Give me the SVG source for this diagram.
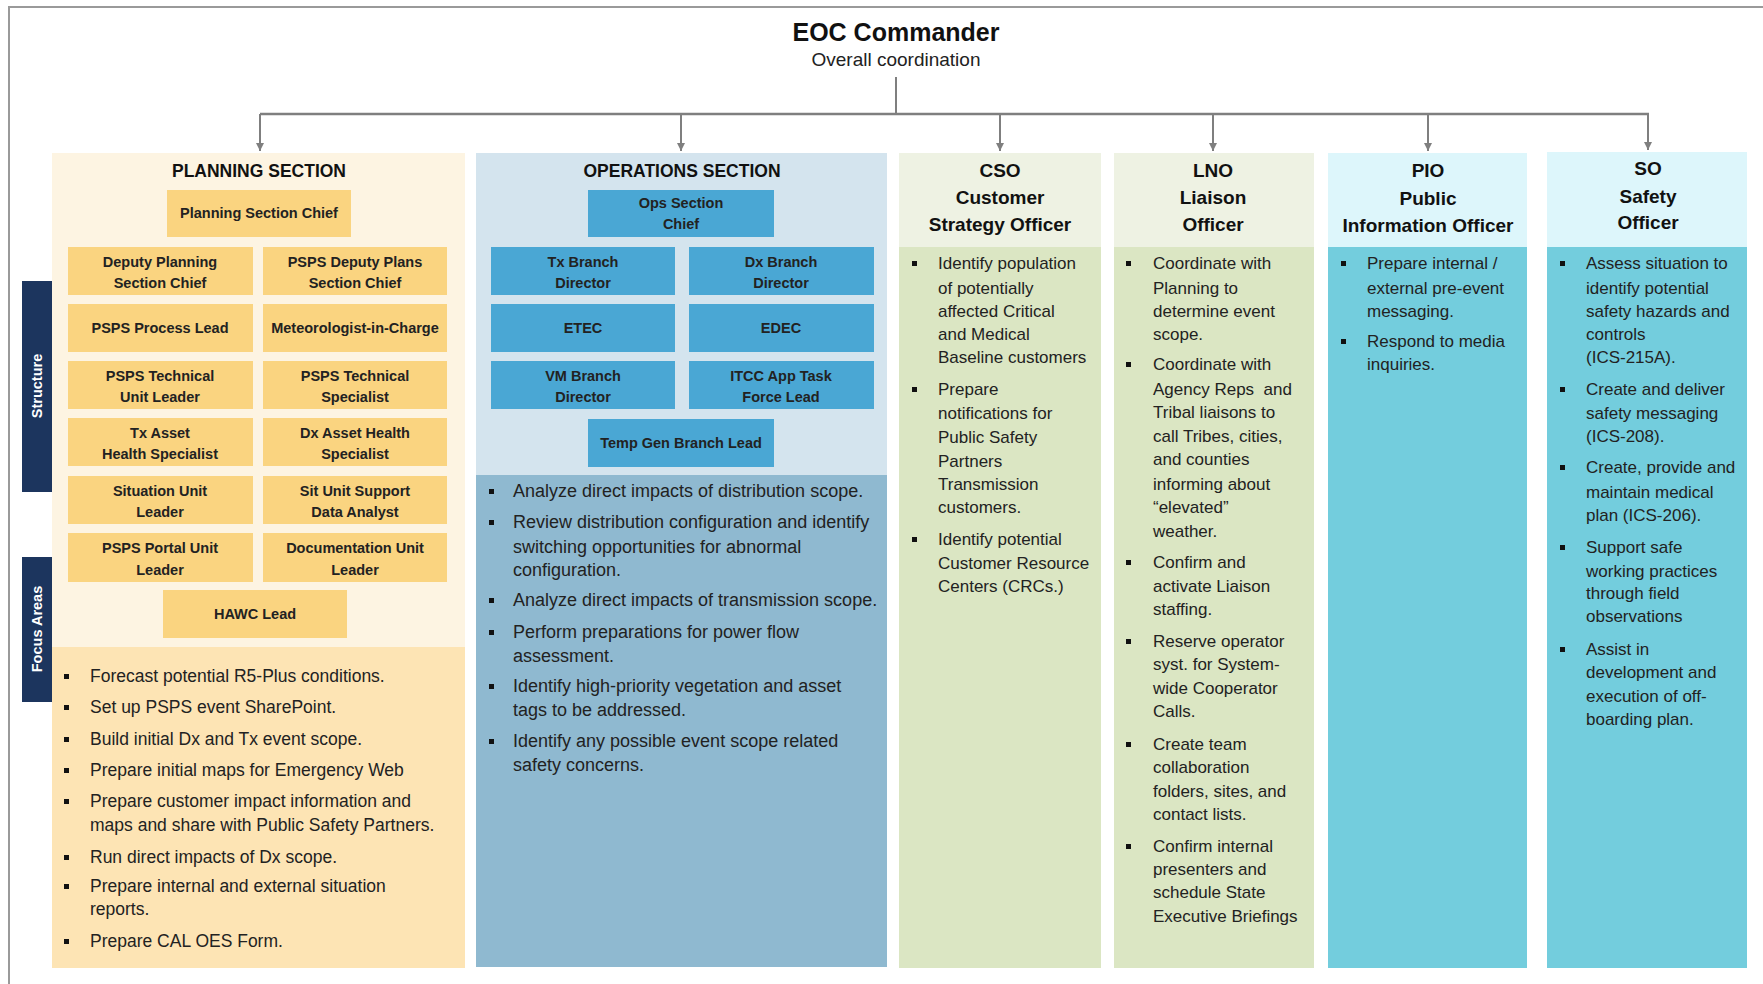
<svg xmlns="http://www.w3.org/2000/svg" width="1763" height="984" viewBox="0 0 1763 984">
<style>
text{font-family:"Liberation Sans",Arial,sans-serif;fill:#1a1a1a}
.h{font-weight:bold;font-size:19px;text-anchor:middle;fill:#111}
.sec{font-weight:bold;font-size:17.5px;text-anchor:middle;fill:#111}
.bx{font-weight:bold;font-size:14.5px;text-anchor:middle;fill:#222}
.t{font-size:17.5px;fill:#222}
.t2{font-size:18px;fill:#222}
.t3{font-size:17px;fill:#222}
.tab{font-weight:bold;font-size:14.5px;text-anchor:middle;fill:#fff}
.pb{fill:#fad480}
.ob{fill:#4aa7d4}
.conn{stroke:#7f7f7f;stroke-width:2;fill:none}
.bul{fill:#111}
</style>
<defs>
<marker id="arr" viewBox="0 0 10 10" refX="10" refY="5" markerWidth="8" markerHeight="8" markerUnits="userSpaceOnUse" orient="auto">
<path d="M0,0 L10,5 L0,10 z" fill="#7f7f7f"/>
</marker>
<rect id="b" width="5" height="5"/>
</defs>
<rect width="1763" height="984" fill="#fff"/>
<path d="M9 984 V7 H1763" stroke="#9a9a9a" stroke-width="2" fill="none"/>

<g id="commander">
<text x="896" y="41" style="font-weight:bold;font-size:25px;text-anchor:middle;fill:#111">EOC Commander</text>
<text x="896" y="66" style="font-size:19px;text-anchor:middle;fill:#222">Overall coordination</text>
</g>

<g id="connectors">
<path class="conn" d="M896 77 V114"/>
<path class="conn" d="M260 114 H1649" style="stroke-width:2.5"/>
<path class="conn" d="M260 114 V151" marker-end="url(#arr)"/>
<path class="conn" d="M681 114 V151" marker-end="url(#arr)"/>
<path class="conn" d="M1000 114 V151" marker-end="url(#arr)"/>
<path class="conn" d="M1213 114 V151" marker-end="url(#arr)"/>
<path class="conn" d="M1428 114 V151" marker-end="url(#arr)"/>
<path class="conn" d="M1648 114 V150" marker-end="url(#arr)"/>
</g>

<g id="tabs">
<rect x="22" y="281" width="31" height="211" fill="#1c355e"/>
<text class="tab" transform="translate(42 386) rotate(-90)">Structure</text>
<rect x="22" y="557" width="31" height="145" fill="#1c355e"/>
<text class="tab" transform="translate(42 629) rotate(-90)">Focus Areas</text>
</g>

<g id="planning">
<rect x="52" y="153" width="413" height="494" fill="#fdf4e2"/>
<rect x="52" y="647" width="413" height="321" fill="#fde4b4"/>
<text class="sec" x="259" y="177">PLANNING SECTION</text>
<rect class="pb" x="167" y="190" width="184" height="47"/>
<text class="bx" x="259" y="218">Planning Section Chief</text>
<rect class="pb" x="68" y="247" width="185" height="48"/>
<text class="bx" x="160" y="267">Deputy Planning</text><text class="bx" x="160" y="288">Section Chief</text>
<rect class="pb" x="263" y="247" width="184" height="48"/>
<text class="bx" x="355" y="267">PSPS Deputy Plans</text><text class="bx" x="355" y="288">Section Chief</text>
<rect class="pb" x="68" y="304" width="185" height="48"/>
<text class="bx" x="160" y="333">PSPS Process Lead</text>
<rect class="pb" x="263" y="304" width="184" height="48"/>
<text class="bx" x="355" y="333">Meteorologist-in-Charge</text>
<rect class="pb" x="68" y="361" width="185" height="48"/>
<text class="bx" x="160" y="381">PSPS Technical</text><text class="bx" x="160" y="402">Unit Leader</text>
<rect class="pb" x="263" y="361" width="184" height="48"/>
<text class="bx" x="355" y="381">PSPS Technical</text><text class="bx" x="355" y="402">Specialist</text>
<rect class="pb" x="68" y="418" width="185" height="48"/>
<text class="bx" x="160" y="438">Tx Asset</text><text class="bx" x="160" y="459">Health Specialist</text>
<rect class="pb" x="263" y="418" width="184" height="48"/>
<text class="bx" x="355" y="438">Dx Asset Health</text><text class="bx" x="355" y="459">Specialist</text>
<rect class="pb" x="68" y="476" width="185" height="48"/>
<text class="bx" x="160" y="496">Situation Unit</text><text class="bx" x="160" y="517">Leader</text>
<rect class="pb" x="263" y="476" width="184" height="48"/>
<text class="bx" x="355" y="496">Sit Unit Support</text><text class="bx" x="355" y="517">Data Analyst</text>
<rect class="pb" x="68" y="533" width="185" height="49"/>
<text class="bx" x="160" y="553">PSPS Portal Unit</text><text class="bx" x="160" y="575">Leader</text>
<rect class="pb" x="263" y="533" width="184" height="49"/>
<text class="bx" x="355" y="553">Documentation Unit</text><text class="bx" x="355" y="575">Leader</text>
<rect class="pb" x="163" y="590" width="184" height="48"/>
<text class="bx" x="255" y="619">HAWC Lead</text>
<g class="bul">
<use href="#b" x="64" y="674"/><use href="#b" x="64" y="705"/><use href="#b" x="64" y="737"/><use href="#b" x="64" y="768"/><use href="#b" x="64" y="799"/><use href="#b" x="64" y="855"/><use href="#b" x="64" y="884"/><use href="#b" x="64" y="939"/>
</g>
<text class="t" x="90" y="682">Forecast potential R5-Plus conditions.</text>
<text class="t" x="90" y="713">Set up PSPS event SharePoint.</text>
<text class="t" x="90" y="745">Build initial Dx and Tx event scope.</text>
<text class="t" x="90" y="776">Prepare initial maps for Emergency Web</text>
<text class="t" x="90" y="807">Prepare customer impact information and</text>
<text class="t" x="90" y="831">maps and share with Public Safety Partners.</text>
<text class="t" x="90" y="863">Run direct impacts of Dx scope.</text>
<text class="t" x="90" y="892">Prepare internal and external situation</text>
<text class="t" x="90" y="915">reports.</text>
<text class="t" x="90" y="947">Prepare CAL OES Form.</text>
</g>

<g id="operations">
<rect x="476" y="153" width="411" height="322" fill="#d4e4ee"/>
<rect x="476" y="475" width="411" height="492" fill="#8fb9d0"/>
<text class="sec" x="682" y="177">OPERATIONS SECTION</text>
<rect class="ob" x="588" y="190" width="186" height="47"/>
<text class="bx" x="681" y="208">Ops Section</text><text class="bx" x="681" y="229">Chief</text>
<rect class="ob" x="491" y="247" width="184" height="48"/>
<text class="bx" x="583" y="267">Tx Branch</text><text class="bx" x="583" y="288">Director</text>
<rect class="ob" x="689" y="247" width="185" height="48"/>
<text class="bx" x="781" y="267">Dx Branch</text><text class="bx" x="781" y="288">Director</text>
<rect class="ob" x="491" y="304" width="184" height="48"/>
<text class="bx" x="583" y="333">ETEC</text>
<rect class="ob" x="689" y="304" width="185" height="48"/>
<text class="bx" x="781" y="333">EDEC</text>
<rect class="ob" x="491" y="361" width="184" height="48"/>
<text class="bx" x="583" y="381">VM Branch</text><text class="bx" x="583" y="402">Director</text>
<rect class="ob" x="689" y="361" width="185" height="48"/>
<text class="bx" x="781" y="381">ITCC App Task</text><text class="bx" x="781" y="402">Force Lead</text>
<rect class="ob" x="588" y="419" width="186" height="48"/>
<text class="bx" x="681" y="448">Temp Gen Branch Lead</text>
<g class="bul">
<use href="#b" x="489" y="489"/><use href="#b" x="489" y="520"/><use href="#b" x="489" y="598"/><use href="#b" x="489" y="630"/><use href="#b" x="489" y="684"/><use href="#b" x="489" y="739"/>
</g>
<text class="t2" x="513" y="497">Analyze direct impacts of distribution scope.</text>
<text class="t2" x="513" y="528">Review distribution configuration and identify</text>
<text class="t2" x="513" y="553">switching opportunities for abnormal</text>
<text class="t2" x="513" y="576">configuration.</text>
<text class="t2" x="513" y="606">Analyze direct impacts of transmission scope.</text>
<text class="t2" x="513" y="638">Perform preparations for power flow</text>
<text class="t2" x="513" y="662">assessment.</text>
<text class="t2" x="513" y="692">Identify high-priority vegetation and asset</text>
<text class="t2" x="513" y="716">tags to be addressed.</text>
<text class="t2" x="513" y="747">Identify any possible event scope related</text>
<text class="t2" x="513" y="771">safety concerns.</text>
</g>

<g id="cso">
<rect x="899" y="153" width="202" height="94" fill="#eef2e3"/>
<rect x="899" y="247" width="202" height="721" fill="#dbe6c3"/>
<text class="h" x="1000" y="177">CSO</text>
<text class="h" x="1000" y="204">Customer</text>
<text class="h" x="1000" y="231">Strategy Officer</text>
<g class="bul"><use href="#b" x="912" y="261"/><use href="#b" x="912" y="387"/><use href="#b" x="912" y="537"/></g>
<text class="t3" x="938" y="269">Identify population</text>
<text class="t3" x="938" y="294">of potentially</text>
<text class="t3" x="938" y="317">affected Critical</text>
<text class="t3" x="938" y="340">and Medical</text>
<text class="t3" x="938" y="363">Baseline customers</text>
<text class="t3" x="938" y="395">Prepare</text>
<text class="t3" x="938" y="419">notifications for</text>
<text class="t3" x="938" y="443">Public Safety</text>
<text class="t3" x="938" y="467">Partners</text>
<text class="t3" x="938" y="490">Transmission</text>
<text class="t3" x="938" y="513">customers.</text>
<text class="t3" x="938" y="545">Identify potential</text>
<text class="t3" x="938" y="569">Customer Resource</text>
<text class="t3" x="938" y="592">Centers (CRCs.)</text>
</g>

<g id="lno">
<rect x="1114" y="153" width="200" height="94" fill="#eef2e3"/>
<rect x="1114" y="247" width="200" height="721" fill="#dbe6c3"/>
<text class="h" x="1213" y="177">LNO</text>
<text class="h" x="1213" y="204">Liaison</text>
<text class="h" x="1213" y="231">Officer</text>
<g class="bul"><use href="#b" x="1126" y="261"/><use href="#b" x="1126" y="362"/><use href="#b" x="1126" y="560"/><use href="#b" x="1126" y="639"/><use href="#b" x="1126" y="742"/><use href="#b" x="1126" y="844"/></g>
<text class="t3" x="1153" y="269">Coordinate with</text>
<text class="t3" x="1153" y="294">Planning to</text>
<text class="t3" x="1153" y="317">determine event</text>
<text class="t3" x="1153" y="340">scope.</text>
<text class="t3" x="1153" y="370">Coordinate with</text>
<text class="t3" x="1153" y="395" xml:space="preserve">Agency Reps  and</text>
<text class="t3" x="1153" y="418">Tribal liaisons to</text>
<text class="t3" x="1153" y="442">call Tribes, cities,</text>
<text class="t3" x="1153" y="465">and counties</text>
<text class="t3" x="1153" y="490">informing about</text>
<text class="t3" x="1153" y="513">“elevated”</text>
<text class="t3" x="1153" y="537">weather.</text>
<text class="t3" x="1153" y="568">Confirm and</text>
<text class="t3" x="1153" y="592">activate Liaison</text>
<text class="t3" x="1153" y="615">staffing.</text>
<text class="t3" x="1153" y="647">Reserve operator</text>
<text class="t3" x="1153" y="670">syst. for System-</text>
<text class="t3" x="1153" y="694">wide Cooperator</text>
<text class="t3" x="1153" y="717">Calls.</text>
<text class="t3" x="1153" y="750">Create team</text>
<text class="t3" x="1153" y="773">collaboration</text>
<text class="t3" x="1153" y="797">folders, sites, and</text>
<text class="t3" x="1153" y="820">contact lists.</text>
<text class="t3" x="1153" y="852">Confirm internal</text>
<text class="t3" x="1153" y="875">presenters and</text>
<text class="t3" x="1153" y="898">schedule State</text>
<text class="t3" x="1153" y="922">Executive Briefings</text>
</g>

<g id="pio">
<rect x="1328" y="153" width="199" height="94" fill="#ddf6fb"/>
<rect x="1328" y="247" width="199" height="721" fill="#73cddd"/>
<text class="h" x="1428" y="177">PIO</text>
<text class="h" x="1428" y="205">Public</text>
<text class="h" x="1428" y="232">Information Officer</text>
<g class="bul"><use href="#b" x="1341" y="261"/><use href="#b" x="1341" y="339"/></g>
<text class="t3" x="1367" y="269">Prepare internal /</text>
<text class="t3" x="1367" y="294">external pre-event</text>
<text class="t3" x="1367" y="317">messaging.</text>
<text class="t3" x="1367" y="347">Respond to media</text>
<text class="t3" x="1367" y="370">inquiries.</text>
</g>

<g id="so">
<rect x="1547" y="152" width="200" height="95" fill="#ddf6fb"/>
<rect x="1547" y="247" width="200" height="721" fill="#73cddd"/>
<text class="h" x="1648" y="175">SO</text>
<text class="h" x="1648" y="203">Safety</text>
<text class="h" x="1648" y="229">Officer</text>
<g class="bul"><use href="#b" x="1560" y="261"/><use href="#b" x="1560" y="387"/><use href="#b" x="1560" y="465"/><use href="#b" x="1560" y="545"/><use href="#b" x="1560" y="647"/></g>
<text class="t3" x="1586" y="269">Assess situation to</text>
<text class="t3" x="1586" y="294">identify potential</text>
<text class="t3" x="1586" y="317">safety hazards and</text>
<text class="t3" x="1586" y="340">controls</text>
<text class="t3" x="1586" y="363">(ICS-215A).</text>
<text class="t3" x="1586" y="395">Create and deliver</text>
<text class="t3" x="1586" y="419">safety messaging</text>
<text class="t3" x="1586" y="442">(ICS-208).</text>
<text class="t3" x="1586" y="473">Create, provide and</text>
<text class="t3" x="1586" y="498">maintain medical</text>
<text class="t3" x="1586" y="521">plan (ICS-206).</text>
<text class="t3" x="1586" y="553">Support safe</text>
<text class="t3" x="1586" y="577">working practices</text>
<text class="t3" x="1586" y="599">through field</text>
<text class="t3" x="1586" y="622">observations</text>
<text class="t3" x="1586" y="655">Assist in</text>
<text class="t3" x="1586" y="678">development and</text>
<text class="t3" x="1586" y="702">execution of off-</text>
<text class="t3" x="1586" y="725">boarding plan.</text>
</g>
</svg>
